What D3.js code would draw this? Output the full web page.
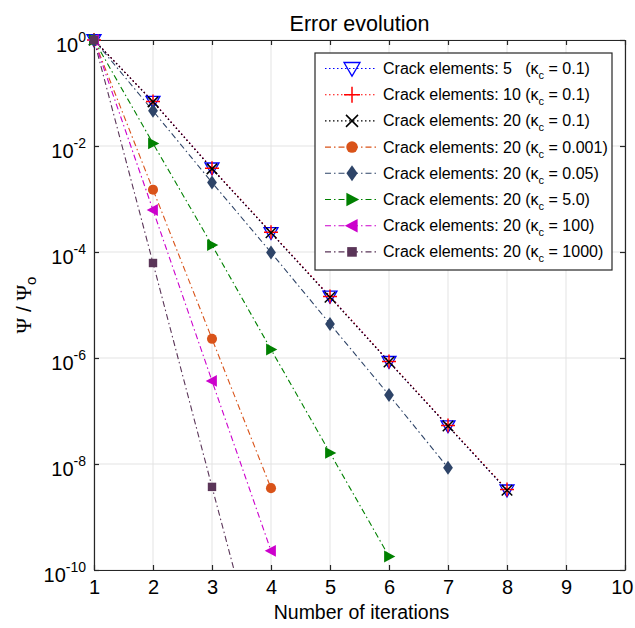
<!DOCTYPE html>
<html><head><meta charset="utf-8">
<script src="https://cdn.jsdelivr.net/npm/d3@7"></script>
<style>body{margin:0;background:#fff}svg{display:block}text{font-family:"Liberation Sans",Arial,sans-serif}</style>
</head><body>
<svg id="chart" width="635" height="628"></svg>
<script>
// ---- data ----
const iterations = [1,2,3,4,5,6,7,8];
const seriesNames = [
  "Crack elements: 5   (κ|c| = 0.1)",
  "Crack elements: 10 (κ|c| = 0.1)",
  "Crack elements: 20 (κ|c| = 0.1)",
  "Crack elements: 20 (κ|c| = 0.001)",
  "Crack elements: 20 (κ|c| = 0.05)",
  "Crack elements: 20 (κ|c| = 5.0)",
  "Crack elements: 20 (κ|c| = 100)",
  "Crack elements: 20 (κ|c| = 1000)"
];
const seriesColors = ["#0000ff","#ff0000","#000000","#d95319","#2e4468","#008000","#cc00cc","#5a3558"];
const seriesMarkers = ["triDown","plus","cross","circle","diamond","triRight","triLeft","square"];
const seriesDash = ["dot","dot","dot","dashdot","dashdot","dashdot","dashdot","dashdot"];
const elem5  = [1, 6.9e-2, 3.8e-3, 2.3e-4, 1.45e-5, 8.5e-7, 5.2e-8, 3.2e-9];
const elem10 = [1, 6.9e-2, 3.8e-3, 2.35e-4, 1.45e-5, 8.6e-7, 5.3e-8, 3.3e-9];
const elem20 = [1, 6.8e-2, 3.7e-3, 2.3e-4, 1.4e-5, 8.4e-7, 5.2e-8, 3.2e-9];
const kc0001 = [1, 1.5e-3, 2.3e-6, 3.5e-9];
const kc005  = [1, 4.6e-2, 2.05e-3, 9.8e-5, 4.4e-6, 2.0e-7, 8.5e-9];
const kc5    = [1, 1.12e-2, 1.35e-4, 1.45e-6, 1.62e-8, 1.8e-10];
const kc100  = [1, 6.2e-4, 3.7e-7, 2.3e-10];
const kc1000 = [1, 6.2e-5, 3.7e-9, 2.4e-13];
const seriesValues = [elem5, elem10, elem20, kc0001, kc005, kc5, kc100, kc1000];
const xTicks = [1,2,3,4,5,6,7,8,9,10];
const yTickExps = [0,-2,-4,-6,-8,-10];

// ---- layout ----
const svg = d3.select("#chart");
const m = {l:94, r:625, t:40, b:570};
const x = d3.scaleLinear().domain([1,10]).range([m.l, m.r]);
const y = d3.scaleLog().domain([1e-10, 1]).range([m.b, m.t]);

// grid
const g = svg.append("g");
g.selectAll(".gx").data(xTicks).join("line")
  .attr("x1", d=>x(d)).attr("x2", d=>x(d)).attr("y1", m.t).attr("y2", m.b)
  .attr("stroke", "#e3e3e3").attr("stroke-width", 1);
g.selectAll(".gy").data(yTickExps).join("line")
  .attr("y1", d=>y(Math.pow(10,d))).attr("y2", d=>y(Math.pow(10,d))).attr("x1", m.l).attr("x2", m.r)
  .attr("stroke", "#e3e3e3").attr("stroke-width", 1);

// axes with inward ticks
const tickLen = 5;
const axB = svg.append("g").attr("transform", `translate(0,${m.b})`)
  .call(d3.axisBottom(x).tickValues(xTicks).tickSizeInner(-tickLen).tickSizeOuter(0).tickPadding(10));
const axT = svg.append("g").attr("transform", `translate(0,${m.t})`)
  .call(d3.axisTop(x).tickValues(xTicks).tickSizeInner(-tickLen).tickSizeOuter(0).tickFormat(""));
const axL = svg.append("g").attr("transform", `translate(${m.l},0)`)
  .call(d3.axisLeft(y).tickValues(yTickExps.map(e=>Math.pow(10,e))).tickSizeInner(-tickLen).tickSizeOuter(0).tickFormat(""));
const axR = svg.append("g").attr("transform", `translate(${m.r},0)`)
  .call(d3.axisRight(y).tickValues(yTickExps.map(e=>Math.pow(10,e))).tickSizeInner(-tickLen).tickSizeOuter(0).tickFormat(""));
[axB, axT, axL, axR].forEach(a => {
  a.select(".domain").attr("stroke", "#262626").attr("stroke-width", 1.2);
  a.selectAll(".tick line").attr("stroke", "#262626").attr("stroke-width", 1.2);
});
axB.selectAll(".tick text").attr("font-size", 20).attr("fill", "#000").attr("font-family", "Liberation Sans, Arial");
// keep the last label ("10") inside the page
axB.selectAll(".tick text").filter(d => d === 10).attr("text-anchor", "end").attr("dx", "8");

// y tick labels 10^e
yTickExps.forEach(e => {
  const t = svg.append("text").attr("x", m.l - 8).attr("y", y(Math.pow(10,e)) + 11.5)
    .attr("text-anchor", "end").attr("font-size", 20).attr("fill", "#000");
  t.append("tspan").text("10");
  t.append("tspan").attr("dy", -10).attr("font-size", 14).text(String(e));
});

// clip
svg.append("clipPath").attr("id", "clip").append("rect")
  .attr("x", m.l).attr("y", m.t).attr("width", m.r - m.l).attr("height", m.b - m.t);

// marker drawing
function drawMarker(sel, type, color, s) {
  const sym = {
    triDown: () => sel.append("path").attr("d", `M${-s},${-s*0.75}L${s},${-s*0.75}L0,${s*0.95}Z`).attr("fill", "none").attr("stroke", color).attr("stroke-width", 1.3),
    plus: () => sel.append("path").attr("d", `M${-s},0L${s},0M0,${-s}L0,${s}`).attr("stroke", color).attr("stroke-width", 1.5),
    cross: () => sel.append("path").attr("d", `M${-s*0.75},${-s*0.75}L${s*0.75},${s*0.75}M${-s*0.75},${s*0.75}L${s*0.75},${-s*0.75}`).attr("stroke", color).attr("stroke-width", 1.5),
    circle: () => sel.append("circle").attr("r", s*0.72).attr("fill", color),
    diamond: () => sel.append("path").attr("d", `M0,${-s}L${s*0.7},0L0,${s}L${-s*0.7},0Z`).attr("fill", color),
    triRight: () => sel.append("path").attr("d", `M${-s*0.7},${-s*0.85}L${s*0.9},0L${-s*0.7},${s*0.85}Z`).attr("fill", color),
    triLeft: () => sel.append("path").attr("d", `M${s*0.7},${-s*0.85}L${-s*0.9},0L${s*0.7},${s*0.85}Z`).attr("fill", color),
    square: () => sel.append("rect").attr("x", -s*0.6).attr("y", -s*0.6).attr("width", s*1.2).attr("height", s*1.2).attr("fill", color)
  };
  sym[type]();
}
const dashArr = {dot: "1.5,2.5", dashdot: "6,3,1.5,3"};

const plot = svg.append("g").attr("clip-path", "url(#clip)");
const line = d3.line().x((d,i)=>x(iterations[i])).y(d=>y(d));
const order = [0,1,2,3,4,5,6,7];
order.forEach(k => {
  const vals = seriesValues[k];
  plot.append("path").datum(vals).attr("d", line).attr("fill", "none")
    .attr("stroke", seriesColors[k]).attr("stroke-width", 1.1)
    .attr("stroke-dasharray", dashArr[seriesDash[k]]);
});
order.forEach(k => {
  const vals = seriesValues[k];
  vals.forEach((v,i) => {
    if (v < 1e-10) return;
    const mg = svg.append("g").attr("transform", `translate(${x(iterations[i])},${y(v)})`);
    drawMarker(mg, seriesMarkers[k], seriesColors[k], 7);
  });
});

// legend
const lg = svg.append("g");
const lx = 315, ly = 53, lw = 297, lh = 217, rowH = 26.2;
lg.append("rect").attr("x", lx).attr("y", ly).attr("width", lw).attr("height", lh)
  .attr("fill", "#fff").attr("stroke", "#262626").attr("stroke-width", 1.2);
seriesNames.forEach((name, k) => {
  const cy = ly + 15.5 + k*rowH;
  lg.append("line").attr("x1", lx + 10).attr("x2", lx + 62).attr("y1", cy).attr("y2", cy)
    .attr("stroke", seriesColors[k]).attr("stroke-width", 1.1).attr("stroke-dasharray", dashArr[seriesDash[k]]);
  const mg = lg.append("g").attr("transform", `translate(${lx + 37},${cy})`);
  drawMarker(mg, seriesMarkers[k], seriesColors[k], 8);
  const parts = name.split("|");
  const t = lg.append("text").attr("x", lx + 68).attr("y", cy + 5.5).attr("font-size", 16).attr("fill", "#000")
    .attr("xml:space", "preserve").style("white-space", "pre");
  t.append("tspan").text(parts[0]);
  t.append("tspan").attr("dy", 5).attr("font-size", 11).text(parts[1]);
  t.append("tspan").attr("dy", -5).text(parts[2]);
});

// title & labels
svg.append("text").attr("x", (m.l+m.r)/2).attr("y", 31).attr("text-anchor", "middle")
  .attr("font-size", 21.5).attr("fill", "#000").text("Error evolution");
svg.append("text").attr("x", (m.l+m.r)/2 + 2).attr("y", 619).attr("text-anchor", "middle")
  .attr("font-size", 19.5).attr("fill", "#000").text("Number of iterations");
const yl = svg.append("text").attr("transform", `translate(31,${(m.t+m.b)/2}) rotate(-90)`)
  .attr("text-anchor", "middle").attr("font-size", 21).attr("fill", "#000");
yl.append("tspan").attr("font-family", "Liberation Serif, serif").text("Ψ");
yl.append("tspan").text(" / ");
yl.append("tspan").attr("font-family", "Liberation Serif, serif").text("Ψ");
yl.append("tspan").attr("dy", 5).attr("font-size", 15).text("o");
</script>
</body></html>
